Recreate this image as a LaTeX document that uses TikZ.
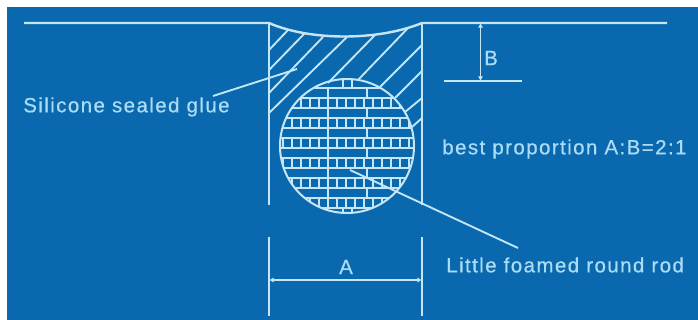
\documentclass[tikz,border=0pt]{standalone}
\usepackage{fontspec}
\setmainfont{Liberation Sans}
\newfontfamily\labelfont[LetterSpace=6.8,FakeBold=.5]{Liberation Sans}
\usetikzlibrary{arrows.meta,positioning,calc}
\definecolor{panelblue}{HTML}{0A69AE}
\definecolor{linepale}{HTML}{C4E6F7}
\definecolor{textpale}{HTML}{ABDCF6}
\tikzset{
  edgeline/.style={draw=linepale,line width=1.8pt},
  thinline/.style={draw=linepale,line width=1.4pt},
  brickline/.style={draw=linepale,line width=1.2pt},
  dimline/.style={draw=linepale,line width=1.3pt,{Latex[length=3.5pt,width=4pt]}-{Latex[length=3.5pt,width=4pt]}},
  lbl/.style={inner sep=0pt,text=textpale,font=\labelfont\fontsize{15.4}{18}\selectfont}
}
\begin{document}
\begin{tikzpicture}[x=.75pt,y=-.75pt]
\useasboundingbox (0,0) rectangle (698,320);
\fill[panelblue] (7,7) rectangle (698,320);
\coordinate (S1) at (24,23);
\coordinate (S2) at (269,23);
\coordinate (S3) at (422,23);
\coordinate (S4) at (667,23);
\coordinate (W1) at (269,205);
\coordinate (W2) at (422,205);
% hatching of the glue
\foreach \xa/\ya/\xb/\yb in {269/50/288/30,269/70/305/33,269/93/323/37,269/113/347/37,
328/83/375/35,358/80/408/28,380/87/422/45,395/98/422/71,405/112/422/98,412/127/422/118}
  \draw[thinline] (\xa,\ya)--(\xb,\yb);
% the rod
\begin{scope}
\clip (347,146) circle (67);
\foreach \y in {88,98,...,208}
  \draw[brickline] (270,\y)--(420,\y);
\foreach \y in {98,118,...,198}
  \foreach \x in {283,292,...,410}
    \draw[brickline] (\x,\y)--(\x,\y+10);
\foreach \y in {88,108,128,148,168,188}
  \foreach \x in {328,367}
    \draw[brickline] (\x,\y)--(\x,\y+10);
\draw[brickline] (343,78)--(343,88) (352,78)--(352,88);
\draw[brickline] (343,208)--(343,214) (352,208)--(352,214);
\end{scope}
\node[circle,draw=linepale,line width=1.5pt,minimum size=100.5pt,inner sep=0pt] (rod) at (347,146) {};
% surface and walls
\draw[edgeline] (S1)--(S2) .. controls (310,41) and (378,41) .. (S3)--(S4);
\draw[edgeline] (S2)--(W1);
\draw[edgeline] (S3)--(W2);
% dimension A
\coordinate (A1) at (269,237);
\coordinate (A2) at (269,316);
\coordinate (A3) at (422,237);
\coordinate (A4) at (422,316);
\coordinate (A5) at (269,280);
\coordinate (A6) at (422,280);
\draw[edgeline] (A1)--(A2);
\draw[edgeline] (A3)--(A4);
\draw[dimline] (A5)--(A6);
\node[lbl] (labelA) at (346,267) {A};
% dimension B
\coordinate (B1) at (444,81);
\coordinate (B2) at (522,81);
\coordinate (B3) at (480.5,23);
\coordinate (B4) at (480.5,81);
\draw[edgeline] (B1)--(B2);
\draw[dimline] (B3)--(B4);
\node[lbl] (labelB) at (491,58) {B};
% labels and leaders
\node[lbl,anchor=west] (glue) at (23,107) {Silicone sealed glue};
\node[lbl,anchor=west] (ratio) at (442,149) {best proportion A:B=2:1};
\node[lbl,anchor=west] (foam) at (446,265) {Little foamed round rod};
\coordinate (G1) at (213,96);
\coordinate (G2) at (297,69);
\coordinate (F1) at (350,170);
\coordinate (F2) at (518,248);
\draw[thinline] (G1)--(G2);
\draw[thinline] (F1)--(F2);
\end{tikzpicture}
\end{document}
